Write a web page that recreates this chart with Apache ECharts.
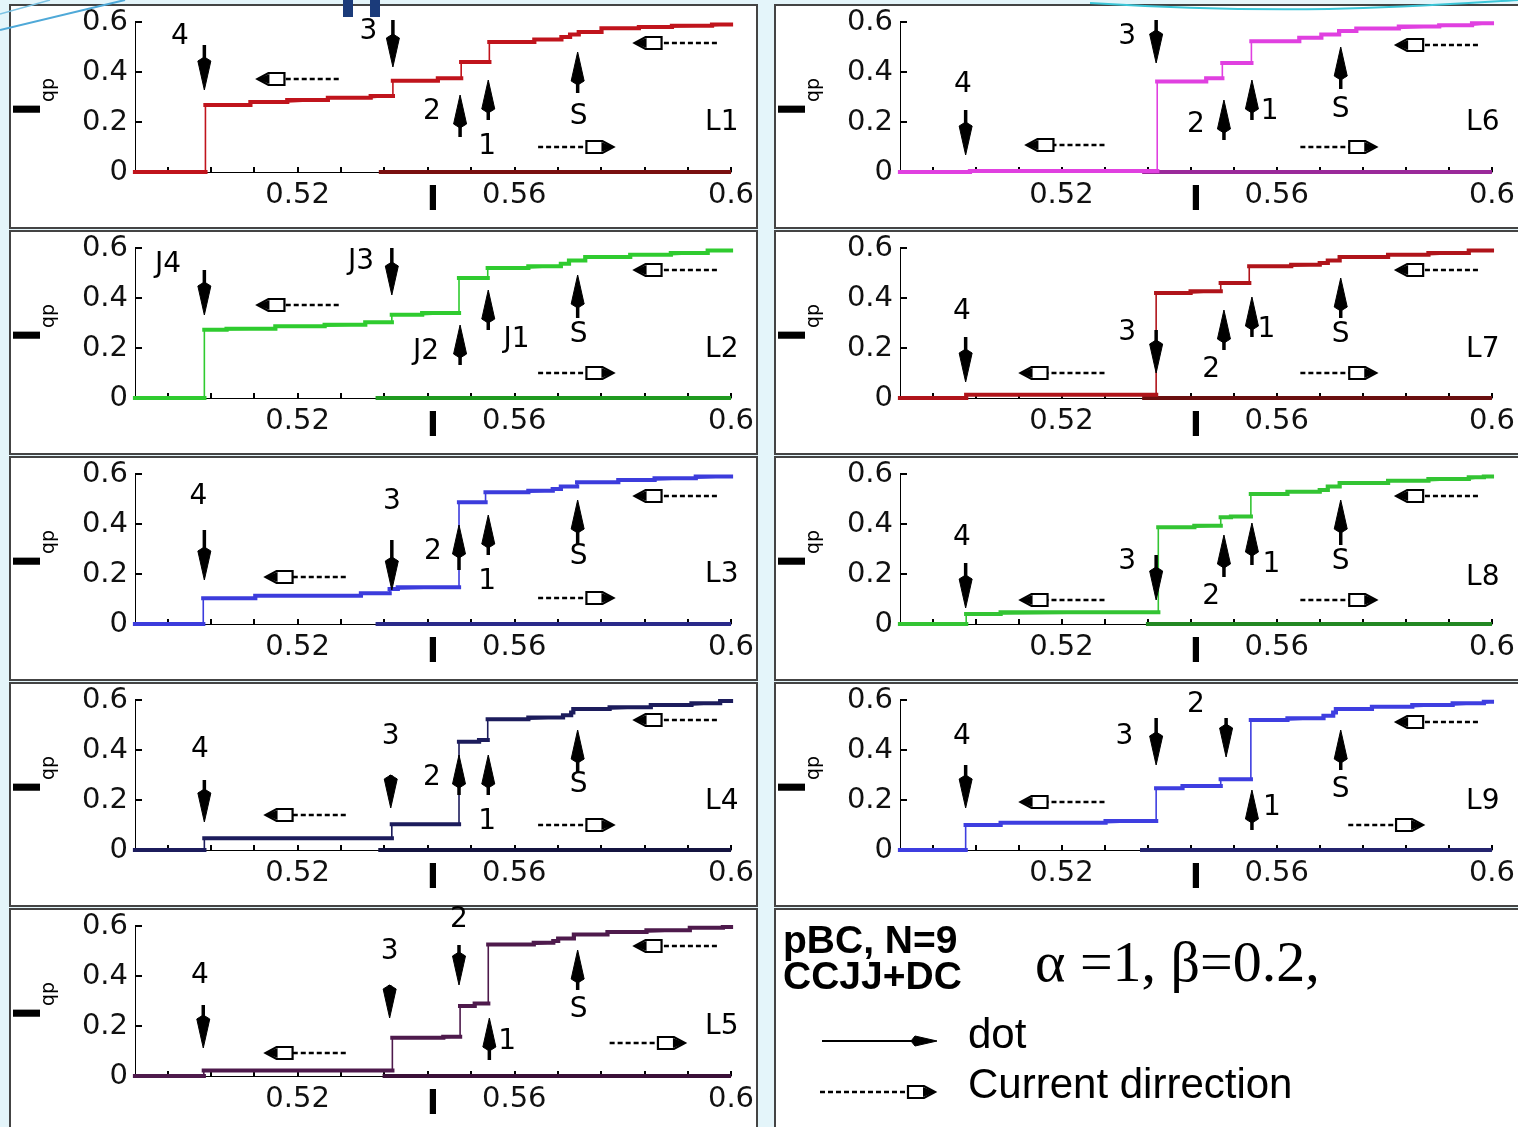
<!DOCTYPE html>
<html>
<head>
<meta charset="utf-8">
<script src="https://cdn.jsdelivr.net/npm/echarts@6/dist/echarts.min.js"></script>
<style>
  html, body { margin: 0; padding: 0; background: #e4f5fa; }
  #chart { width: 1518px; height: 1127px; }
</style>
</head>
<body>
<div id="chart"></div>
<script>
// axis ticks
const xTickValues = [0.496, 0.504, 0.512, 0.52, 0.528, 0.536, 0.544, 0.552, 0.56, 0.568, 0.576, 0.584, 0.592, 0.6];
const xLabelValues = [0.52, 0.56, 0.6];

// Iqp(I) curves, [I, Iqp] ; "down" = sweep from high current, "up" = zero branch
const downL1 = [[0.49,0],[0.503,0.268],[0.5113,0.28],[0.5181,0.288],[0.5256,0.297],[0.5335,0.304],[0.5376,0.365],[0.5459,0.375],[0.5502,0.44],[0.5554,0.52],[0.5637,0.53],[0.5687,0.54],[0.5703,0.55],[0.5719,0.56],[0.5761,0.575],[0.583,0.58],[0.5891,0.585],[0.5965,0.59],[0.6,0.59]];
const upL1 = [[0.535,0],[0.6,0]];
const downL2 = [[0.49,0],[0.5028,0.273],[0.5069,0.277],[0.5159,0.287],[0.525,0.293],[0.5325,0.303],[0.5374,0.333],[0.543,0.34],[0.5498,0.48],[0.5551,0.52],[0.5626,0.527],[0.5686,0.537],[0.5701,0.55],[0.5731,0.564],[0.5814,0.573],[0.5889,0.58],[0.5957,0.59],[0.6,0.59]];
const upL2 = [[0.5344,0],[0.6,0]];
const downL3 = [[0.49,0],[0.5026,0.103],[0.5122,0.113],[0.5317,0.123],[0.537,0.14],[0.5385,0.147],[0.5498,0.487],[0.5547,0.527],[0.5626,0.533],[0.5671,0.54],[0.5686,0.55],[0.5716,0.567],[0.5792,0.576],[0.5859,0.583],[0.5935,0.59],[0.6,0.59]];
const upL3 = [[0.5344,0],[0.6,0]];
const downL4 = [[0.49,0],[0.5028,0.047],[0.5374,0.103],[0.5498,0.433],[0.5535,0.44],[0.5551,0.523],[0.5626,0.53],[0.569,0.539],[0.5705,0.55],[0.5709,0.564],[0.5776,0.571],[0.5852,0.58],[0.5927,0.587],[0.598,0.596],[0.6,0.596]];
const upL4 = [[0.5349,0],[0.6,0]];
const downL5 = [[0.49,0],[0.5027,0.022],[0.5375,0.153],[0.5469,0.157],[0.55,0.28],[0.5527,0.29],[0.5552,0.526],[0.5636,0.533],[0.5672,0.54],[0.5681,0.55],[0.571,0.566],[0.5772,0.576],[0.5844,0.583],[0.5924,0.593],[0.5985,0.596],[0.6,0.596]];
const upL5 = [[0.5357,0],[0.6,0]];
const downL6 = [[0.49,0],[0.503,0.004],[0.5378,0.362],[0.5469,0.375],[0.5499,0.436],[0.5553,0.523],[0.5642,0.537],[0.5683,0.55],[0.5716,0.564],[0.5748,0.574],[0.5827,0.582],[0.5902,0.587],[0.5963,0.595],[0.6,0.595]];
const upL6 = [[0.535,0],[0.6,0]];
const downL7 = [[0.49,0],[0.5023,0.013],[0.5376,0.42],[0.544,0.427],[0.5496,0.46],[0.5549,0.527],[0.5627,0.533],[0.568,0.54],[0.5695,0.55],[0.5717,0.564],[0.5807,0.573],[0.5882,0.58],[0.5957,0.59],[0.6,0.59]];
const upL7 = [[0.535,0],[0.6,0]];
const downL8 = [[0.49,0],[0.5023,0.04],[0.5087,0.047],[0.538,0.387],[0.5447,0.393],[0.5496,0.427],[0.5515,0.43],[0.5552,0.52],[0.562,0.529],[0.568,0.536],[0.5695,0.55],[0.5717,0.564],[0.5807,0.573],[0.5882,0.58],[0.5957,0.587],[0.5985,0.59],[0.6,0.59]];
const upL8 = [[0.5357,0],[0.6,0]];
const downL9 = [[0.49,0],[0.5022,0.1],[0.5087,0.109],[0.5282,0.116],[0.5376,0.247],[0.5425,0.256],[0.5496,0.283],[0.5552,0.52],[0.562,0.527],[0.5687,0.537],[0.5705,0.55],[0.571,0.564],[0.5777,0.573],[0.5852,0.58],[0.5927,0.587],[0.5985,0.593],[0.6,0.593]];
const upL9 = [[0.5346,0],[0.6,0]];

// annotations: texts [label, I, Iqp], arrows [I, from Iqp, to Iqp], current direction [from I, to I, Iqp]
const textsL1 = [['4',0.4983,0.54],['3',0.5331,0.56],['2',0.5448,0.24],['1',0.555,0.10],['S',0.5719,0.22],['L1',0.5983,0.196]];
const arrowsL1 = [[0.5028,0.508,0.328],[0.5376,0.608,0.42],[0.55,0.14,0.308],[0.5552,0.208,0.368],[0.5717,0.316,0.48]];
const dirsL1 = [[0.5276,0.5126,0.372],[0.5974,0.5822,0.516],[0.5644,0.5783,0.10]];
const textsL2 = [['J4',0.4961,0.532],['J3',0.5317,0.544],['J2',0.5437,0.184],['J1',0.5604,0.232],['S',0.5719,0.252],['L2',0.5983,0.192]];
const arrowsL2 = [[0.5028,0.512,0.332],[0.5374,0.6,0.412],[0.55,0.132,0.292],[0.5552,0.272,0.432],[0.5717,0.32,0.492]];
const dirsL2 = [[0.5276,0.5126,0.372],[0.5974,0.5822,0.512],[0.5644,0.5783,0.10]];
const textsL3 = [['4',0.5017,0.508],['3',0.5374,0.488],['2',0.545,0.288],['1',0.555,0.168],['S',0.5719,0.268],['L3',0.5983,0.196]];
const arrowsL3 = [[0.5028,0.376,0.176],[0.5374,0.336,0.136],[0.5498,0.216,0.396],[0.5552,0.276,0.436],[0.5717,0.316,0.496]];
const dirsL3 = [[0.5289,0.5141,0.188],[0.5974,0.5822,0.512],[0.5644,0.5783,0.104]];
const textsL4 = [['4',0.502,0.40],['3',0.5372,0.452],['2',0.5448,0.288],['1',0.555,0.112],['S',0.5719,0.26],['L4',0.5983,0.192]];
const arrowsL4 = [[0.5028,0.28,0.112],[0.5372,0.3,0.168],[0.5498,0.22,0.38],[0.5552,0.22,0.38],[0.5717,0.312,0.48]];
const dirsL4 = [[0.5289,0.5141,0.14],[0.5974,0.5822,0.52],[0.5644,0.5783,0.10]];
const textsL5 = [['4',0.502,0.40],['3',0.537,0.496],['2',0.5498,0.624],['1',0.5587,0.136],['S',0.5719,0.264],['L5',0.5983,0.196]];
const arrowsL5 = [[0.5026,0.284,0.112],[0.537,0.364,0.232],[0.5498,0.524,0.364],[0.5554,0.064,0.232],[0.5717,0.344,0.504]];
const dirsL5 = [[0.5289,0.5141,0.092],[0.5974,0.5822,0.52],[0.5776,0.5915,0.132]];
const textsL6 = [['3',0.5322,0.54],['4',0.5017,0.348],['2',0.545,0.188],['1',0.5587,0.24],['S',0.5719,0.248],['L6',0.5983,0.196]];
const arrowsL6 = [[0.5376,0.608,0.436],[0.5022,0.248,0.068],[0.5502,0.128,0.288],[0.5554,0.208,0.368],[0.5719,0.332,0.50]];
const dirsL6 = [[0.528,0.5135,0.108],[0.5974,0.5822,0.508],[0.5644,0.5785,0.10]];
const textsL7 = [['4',0.5015,0.344],['3',0.5322,0.26],['2',0.5478,0.112],['1',0.5581,0.272],['S',0.5719,0.252],['L7',0.5983,0.192]];
const arrowsL7 = [[0.5022,0.244,0.064],[0.5376,0.272,0.10],[0.5502,0.192,0.352],[0.5554,0.244,0.404],[0.5719,0.32,0.48]];
const dirsL7 = [[0.528,0.5124,0.10],[0.5974,0.5822,0.512],[0.5644,0.5785,0.10]];
const textsL8 = [['4',0.5015,0.344],['3',0.5322,0.248],['2',0.5478,0.108],['1',0.559,0.236],['S',0.5719,0.248],['L8',0.5983,0.184]];
const arrowsL8 = [[0.5022,0.244,0.064],[0.5376,0.276,0.096],[0.5502,0.188,0.356],[0.5554,0.236,0.404],[0.5719,0.316,0.496]];
const dirsL8 = [[0.528,0.5124,0.096],[0.5974,0.5822,0.512],[0.5644,0.5785,0.096]];
const textsL9 = [['4',0.5015,0.452],['3',0.5317,0.452],['2',0.545,0.58],['1',0.5591,0.168],['S',0.5719,0.24],['L9',0.5983,0.192]];
const arrowsL9 = [[0.5022,0.34,0.168],[0.5376,0.528,0.34],[0.5506,0.528,0.372],[0.5554,0.08,0.24],[0.5719,0.32,0.48]];
const dirsL9 = [[0.528,0.5124,0.192],[0.5974,0.5822,0.512],[0.5733,0.5872,0.10]];

const panels = [
  { col: 0, row: 0, down: downL1, up: upL1, color: '#c0141c', zero: '#7a1010', texts: textsL1, arrows: arrowsL1, dirs: dirsL1 },
  { col: 0, row: 1, down: downL2, up: upL2, color: '#2fcb2f', zero: '#1f9a1f', texts: textsL2, arrows: arrowsL2, dirs: dirsL2 },
  { col: 0, row: 2, down: downL3, up: upL3, color: '#3c3cdc', zero: '#2a2a8a', texts: textsL3, arrows: arrowsL3, dirs: dirsL3 },
  { col: 0, row: 3, down: downL4, up: upL4, color: '#1c1c5c', zero: '#141440', texts: textsL4, arrows: arrowsL4, dirs: dirsL4 },
  { col: 0, row: 4, down: downL5, up: upL5, color: '#4e1a4c', zero: '#3a1038', texts: textsL5, arrows: arrowsL5, dirs: dirsL5 },
  { col: 1, row: 0, down: downL6, up: upL6, color: '#e040e0', zero: '#9a2a9a', texts: textsL6, arrows: arrowsL6, dirs: dirsL6 },
  { col: 1, row: 1, down: downL7, up: upL7, color: '#b0141a', zero: '#6a1010', texts: textsL7, arrows: arrowsL7, dirs: dirsL7 },
  { col: 1, row: 2, down: downL8, up: upL8, color: '#33c433', zero: '#228822', texts: textsL8, arrows: arrowsL8, dirs: dirsL8 },
  { col: 1, row: 3, down: downL9, up: upL9, color: '#3e3ee0', zero: '#24246e', texts: textsL9, arrows: arrowsL9, dirs: dirsL9 }
];

const FONT = 'DejaVu Sans';
const chart = echarts.init(document.getElementById('chart'), null, { renderer: 'canvas' });

// horizontal treads of a step curve, separated by gaps, so they can be drawn thicker than the risers
function treads(pts) {
  const out = [];
  for (let k = 0; k < pts.length - 1; k++) {
    out.push([pts[k][0], pts[k][1]], [pts[k + 1][0], pts[k][1]], ['-', '-']);
  }
  return out;
}

const grid = [], xAxis = [], yAxis = [], series = [];
panels.forEach((p, i) => {
  grid.push({ left: p.col ? 900 : 135, width: p.col ? 593 : 596, top: 22 + 226 * p.row, height: 150 });
  xAxis.push({
    gridIndex: i, type: 'value', min: 0.49, max: 0.6,
    axisLine: { onZero: false, lineStyle: { color: '#000', width: 1 } },
    axisTick: { show: true, inside: true, length: 5, customValues: xTickValues, lineStyle: { color: '#000', width: 2 } },
    axisLabel: { customValues: xLabelValues, formatter: v => String(+v.toFixed(2)), fontFamily: FONT, fontSize: 29, color: '#111', margin: 9 },
    splitLine: { show: false },
    name: 'I', nameLocation: 'middle', nameGap: 13, nameMoveOverlap: false,
    nameTextStyle: { fontFamily: FONT, fontWeight: 'bold', fontSize: 33, color: '#000', verticalAlign: 'top' }
  });
  yAxis.push({
    gridIndex: i, type: 'value', min: 0, max: 0.6, interval: 0.2,
    axisLine: { show: true, lineStyle: { color: '#000', width: 1 } },
    axisTick: { show: true, inside: true, length: 7, lineStyle: { color: '#000', width: 2 } },
    axisLabel: { formatter: v => (v === 0 ? '0' : v.toFixed(1)), fontFamily: FONT, fontSize: 29, color: '#111', margin: 7 },
    splitLine: { show: false },
    name: '{a|I}{b|qp}', nameLocation: 'middle', nameRotate: 90, nameGap: 76, nameMoveOverlap: false,
    nameTextStyle: {
      rich: {
        a: { fontFamily: FONT, fontWeight: 'bold', fontSize: 38, color: '#000', lineHeight: 38, verticalAlign: 'top' },
        b: { fontFamily: FONT, fontSize: 19, color: '#000', lineHeight: 48, verticalAlign: 'bottom' }
      }
    }
  });
  series.push({
    type: 'line', xAxisIndex: i, yAxisIndex: i, data: p.up, symbol: 'none',
    lineStyle: { color: p.zero, width: 4 }, z: 3, silent: true
  });
  series.push({
    type: 'line', xAxisIndex: i, yAxisIndex: i, data: p.down, step: 'end', symbol: 'none',
    lineStyle: { color: p.color, width: 1.6 }, z: 4, silent: true
  });
  series.push({
    type: 'line', xAxisIndex: i, yAxisIndex: i, data: treads(p.down), symbol: 'none', connectNulls: false,
    lineStyle: { color: p.color, width: 4.2, cap: 'square' }, z: 5, silent: true
  });
});

chart.setOption({
  animation: false,
  backgroundColor: '#e4f5fa',
  grid: grid, xAxis: xAxis, yAxis: yAxis, series: series
});

// ---- drawing helpers for annotations
function solidArrow(a, b, headLen, headW, lw) {
  const dx = b[0] - a[0], dy = b[1] - a[1], L = Math.hypot(dx, dy);
  const ux = dx / L, uy = dy / L;
  const bx = b[0] - ux * headLen, by = b[1] - uy * headLen;
  return [
    { type: 'line', z: 100, shape: { x1: a[0], y1: a[1], x2: bx + ux * 4, y2: by + uy * 4 }, style: { stroke: '#000', lineWidth: lw } },
    { type: 'polygon', z: 100, shape: { points: [[b[0], b[1]], [bx - uy * headW, by + ux * headW], [bx - ux * 4, by - uy * 4], [bx + uy * headW, by - ux * headW]] }, style: { fill: '#000', stroke: '#000', lineWidth: 1 } }
  ];
}
function dirArrow(a, b) {
  const dx = b[0] - a[0], dy = b[1] - a[1], L = Math.hypot(dx, dy);
  const ux = dx / L, uy = dy / L;
  const pt = (d, n) => [b[0] - ux * d - uy * n, b[1] - uy * d + ux * n];
  return [
    { type: 'line', z: 100, shape: { x1: a[0], y1: a[1], x2: pt(27, 0)[0], y2: pt(27, 0)[1] }, style: { stroke: '#000', lineWidth: 2.5, lineDash: [5, 3] } },
    { type: 'polygon', z: 100, shape: { points: [pt(0, 0), pt(11, -6), pt(27, -6), pt(27, 6), pt(11, 6)] }, style: { fill: '#fff', stroke: '#000', lineWidth: 2.2 } },
    { type: 'polygon', z: 101, shape: { points: [pt(0, 0), pt(12, -5), pt(12, 5)] }, style: { fill: '#000' } }
  ];
}
function txt(s, x, y, font, align) {
  return { type: 'text', z: 100, style: { text: s, x: x, y: y, font: font, fill: '#000', align: align || 'center', verticalAlign: 'middle', textAlign: align || 'center', textVerticalAlign: 'middle' } };
}

const gfx = [];
// background decorations
gfx.push({ type: 'line', z: 120, shape: { x1: 0, y1: 30, x2: 125, y2: 0 }, style: { stroke: '#4fa9d8', lineWidth: 2 } });
gfx.push({ type: 'line', z: 120, shape: { x1: 0, y1: 14, x2: 50, y2: 0 }, style: { stroke: '#7cc3e4', lineWidth: 1.5 } });
gfx.push({ type: 'bezierCurve', z: 120, shape: { x1: 1090, y1: 3, x2: 1518, y2: 0, cpx1: 1300, cpy1: 16, cpx2: 1420, cpy2: 6 }, style: { stroke: '#3cc6d8', lineWidth: 2, fill: null } });
gfx.push({ type: 'rect', z: 120, shape: { x: 343, y: 0, width: 10, height: 17 }, style: { fill: '#1b3b7a' } });
gfx.push({ type: 'rect', z: 120, shape: { x: 370, y: 0, width: 10, height: 17 }, style: { fill: '#1b3b7a' } });

// panel boxes
for (let c = 0; c < 2; c++) {
  for (let r = 0; r < 5; r++) {
    gfx.push({
      type: 'rect', z: -10,
      shape: { x: c ? 775 : 10, y: 5 + 226 * r, width: c ? 750 : 747, height: 223 },
      style: { fill: '#fff', stroke: '#444', lineWidth: 2 }
    });
  }
}

panels.forEach((p, i) => {
  const px = (x, y) => chart.convertToPixel({ gridIndex: i }, [x, y]);
  p.texts.forEach(t => {
    const q = px(t[1], t[2]);
    gfx.push(txt(t[0], q[0], q[1], '28px "' + FONT + '"'));
  });
  p.arrows.forEach(a => {
    solidArrow(px(a[0], a[1]), px(a[0], a[2]), 29, 6.5, 3.5).forEach(e => gfx.push(e));
  });
  p.dirs.forEach(d => {
    dirArrow(px(d[0], d[2]), px(d[1], d[2])).forEach(e => gfx.push(e));
  });
});

// legend box
gfx.push(txt('pBC, N=9', 783, 942, 'bold 39px "Liberation Sans"', 'left'));
gfx.push(txt('CCJJ+DC', 783, 978, 'bold 39px "Liberation Sans"', 'left'));
gfx.push(txt('\u03B1 =1, \u03B2=0.2,', 1035, 966, '58px "Liberation Serif"', 'left'));
solidArrow([822, 1041], [937, 1041], 22, 5, 2).forEach(e => gfx.push(e));
gfx.push(txt('dot', 968, 1036, '42px "Liberation Sans"', 'left'));
dirArrow([820, 1092], [935, 1092]).forEach(e => gfx.push(e));
gfx.push(txt('Current dirrection', 968, 1086, '42px "Liberation Sans"', 'left'));

chart.setOption({ graphic: gfx });
</script>
</body>
</html>
